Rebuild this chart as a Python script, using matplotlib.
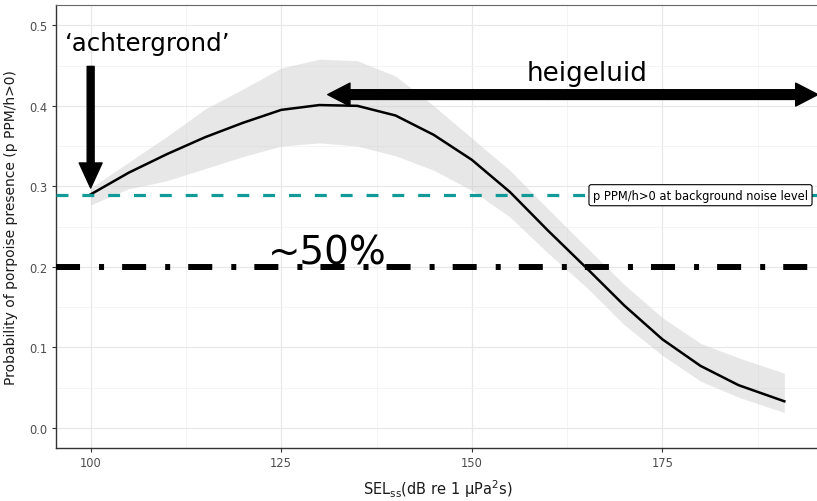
import numpy as np
import matplotlib
matplotlib.use('Agg')
import matplotlib.pyplot as plt
from matplotlib.patches import FancyArrowPatch

plt.rcParams['lines.scale_dashes'] = False

# values
sel = [100, 105, 110, 115, 120, 125, 130, 135, 140, 145, 150, 155, 160, 165, 170, 175, 180, 185, 191]
fit = [0.290, 0.317, 0.340, 0.361, 0.379, 0.395, 0.401, 0.400, 0.388, 0.364, 0.333, 0.293,
       0.245, 0.199, 0.152, 0.110, 0.077, 0.053, 0.033]
upper = [0.298, 0.330, 0.362, 0.396, 0.421, 0.447, 0.458, 0.456, 0.437, 0.400, 0.360, 0.320,
         0.272, 0.225, 0.178, 0.137, 0.105, 0.087, 0.068]
lower = [0.277, 0.297, 0.307, 0.322, 0.337, 0.350, 0.354, 0.350, 0.338, 0.320, 0.295, 0.262,
         0.217, 0.175, 0.128, 0.090, 0.058, 0.038, 0.019]

background_level = 0.289
half_level = 0.2
x_ticks = [100, 125, 150, 175]
y_ticks = [0.0, 0.1, 0.2, 0.3, 0.4, 0.5]

fig = plt.figure(figsize=(8.17, 5.02), dpi=100)
ax = fig.add_axes([0.0685, 0.1056, 0.934, 0.882])

ax.set_xlim(95.45, 195.55)
ax.set_ylim(-0.025, 0.525)

# grid like theme_bw
ax.set_xticks(x_ticks)
ax.set_yticks(y_ticks)
ax.set_xticks([112.5, 137.5, 162.5, 187.5], minor=True)
ax.set_yticks([0.05, 0.15, 0.25, 0.35, 0.45], minor=True)
ax.grid(which='major', color='#e8e8e8', lw=0.9)
ax.grid(which='minor', color='#f2f2f2', lw=0.6)
ax.set_axisbelow(True)
ax.tick_params(which='minor', length=0)
ax.tick_params(which='major', length=3, color='#333333', labelsize=8.3, labelcolor='#4d4d4d', pad=3)
ax.set_yticklabels(['0.0', '0.1', '0.2', '0.3', '0.4', '0.5'])

for side in ['left', 'bottom']:
    ax.spines[side].set_color('#333333')
    ax.spines[side].set_linewidth(1.0)
for side in ['top', 'right']:
    ax.spines[side].set_color('#666666')
    ax.spines[side].set_linewidth(0.8)

# model fit with confidence band
ax.fill_between(sel, lower, upper, color='#c8c8c8', alpha=0.42, lw=0, zorder=2)
ax.plot(sel, fit, color='black', lw=1.8, zorder=3)

# reference lines
ax.axhline(background_level, color='#129a98', lw=2.3, ls=(0, (8.6, 10.0)), zorder=4)
ax.axhline(half_level, color='black', lw=4.3, ls=(0, (17.3, 13.7, 3.6, 13.0)),
           dash_capstyle='butt', zorder=4)

ax.text(180, background_level, 'p PPM/h>0 at background noise level', fontsize=8.3,
        ha='center', va='center', zorder=6,
        bbox=dict(boxstyle='round,pad=0.35,rounding_size=0.2', fc='white', ec='black', lw=0.8))

# annotations
ax.text(96.6, 0.469, '\u2018achtergrond\u2019', fontsize=17.6, ha='left', va='baseline', zorder=6)
ax.text(165.1, 0.432, 'heigeluid', fontsize=18.8, ha='center', va='baseline', zorder=6)
ax.text(123.2, 0.2047, '~50%', fontsize=28, ha='left', va='baseline', zorder=6)

down = FancyArrowPatch((100, 0.449), (100, 0.298),
                       arrowstyle='simple,head_length=18,head_width=16.5,tail_width=5',
                       mutation_scale=1, color='black', shrinkA=0, shrinkB=0, zorder=6)
ax.add_patch(down)
mid = 160
for tip in [131.1, 195.4]:
    arr = FancyArrowPatch((mid, 0.414), (tip, 0.414),
                          arrowstyle='simple,head_length=16,head_width=16.5,tail_width=7',
                          mutation_scale=1, color='black', shrinkA=0, shrinkB=0,
                          zorder=6, clip_on=False)
    ax.add_patch(arr)

ax.set_xlabel('SEL$_{\\mathregular{ss}}$(dB re 1 \u03bcPa$^{\\mathregular{2}}$s)',
              fontsize=10.5, color='#1a1a1a', labelpad=6)
ax.set_ylabel('Probability of porpoise presence (p PPM/h>0)', fontsize=10,
              color='#1a1a1a', labelpad=8)

fig.savefig('out.png', dpi=100)
